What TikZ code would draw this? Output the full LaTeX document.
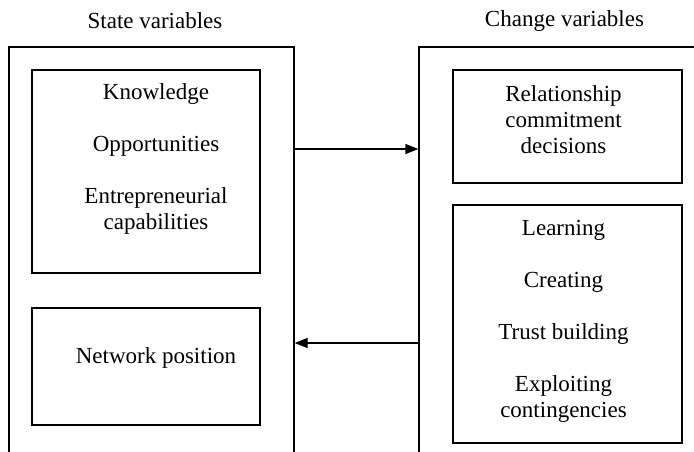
\documentclass[tikz,border=0pt]{standalone}
\usepackage{fontspec}
\setmainfont{Liberation Serif}
\usepackage{tikz}
\usetikzlibrary{arrows.meta}

\begin{document}
\begin{tikzpicture}[x=1pt,y=-1pt,
	box/.style={draw, line width=1.2pt, inner sep=0pt},
	txt/.style={align=center, font=\fontsize{23}{26}\selectfont},
	flow/.style={-{Triangle[length=13pt,width=10pt]}, line width=1.2pt}]

	\useasboundingbox (0,0) rectangle (694,452);
	\clip (0,0) rectangle (694,452);

	\node[txt] (statetitle) at (155,21) {State variables};
	\node[txt] (changetitle) at (564.5,21) {Change variables};

	\node[box, minimum width=285, minimum height=423] (state) at (151.5,258.5) {};
	\node[box, minimum width=301, minimum height=423] (change) at (569.5,258.5) {};

	\node[box, minimum width=228, minimum height=203] (know) at (146,171.5) {};
	\node[txt] (knowtxt) at (156,159) {Knowledge\\[26pt] Opportunities\\[26pt] Entrepreneurial\\ capabilities};

	\node[box, minimum width=228, minimum height=117] (netpos) at (146,366.5) {};
	\node[txt] (netpostxt) at (156,358) {Network position};

	\node[box, minimum width=229, minimum height=113] (commit) at (567.5,126.5) {};
	\node[txt] (committxt) at (563.5,120) {Relationship\\ commitment\\ decisions};

	\node[box, minimum width=229, minimum height=238] (learn) at (567.5,324) {};
	\node[txt] (learntxt) at (563.5,321) {Learning\\[26pt] Creating\\[26pt] Trust building\\[26pt] Exploiting\\ contingencies};

	% arrows between the two sides
	\coordinate (fwd) at (0,149);
	\coordinate (back) at (0,343);
	\draw[flow] (state.east |- fwd) -- (change.west |- fwd);
	\draw[flow] (change.west |- back) -- (state.east |- back);

\end{tikzpicture}
\end{document}
